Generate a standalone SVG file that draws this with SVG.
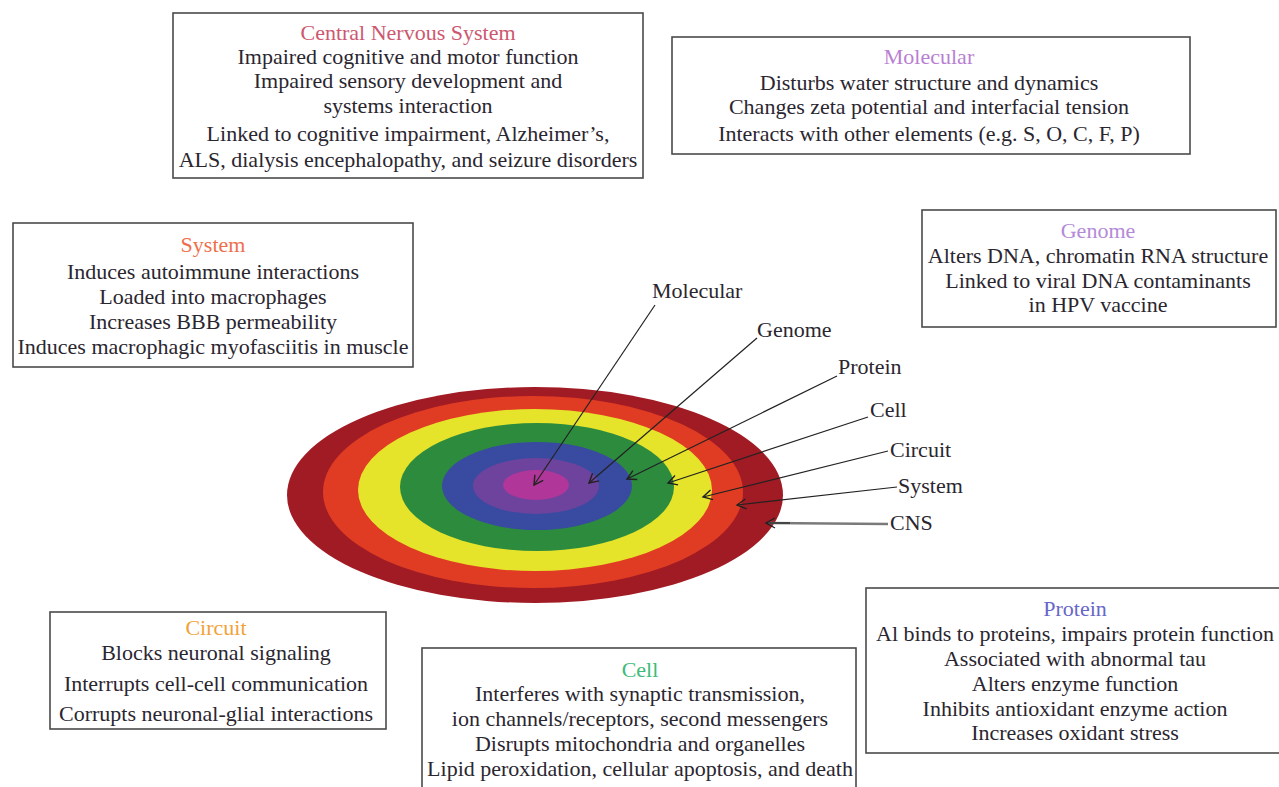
<svg xmlns="http://www.w3.org/2000/svg" width="1279" height="787" viewBox="0 0 1279 787">
  <style>
    .box { fill: #ffffff; stroke: #4a4a4a; stroke-width: 1.6; }
    .txt { font-family: "Liberation Serif", "Times New Roman", serif; font-size: 22px; fill: #2a2630; text-anchor: middle; }
    .lbl { font-family: "Liberation Serif", "Times New Roman", serif; font-size: 22px; fill: #2a2630; }
    .lead { stroke: #222222; stroke-width: 1.2; fill: none; marker-end: url(#vhead); }
  </style>
  <defs>
    <marker id="vhead" viewBox="-10 -6 12 12" refX="0" refY="0" markerWidth="12" markerHeight="12" markerUnits="userSpaceOnUse" orient="auto">
      <path d="M -9 -5 L 0 0 L -9 5" fill="none" stroke="#222222" stroke-width="1.4"/>
    </marker>
  </defs>

  <rect width="1279" height="787" fill="#ffffff"/>

  <!-- nested layers, outermost first -->
  <g id="layers">
    <ellipse cx="535" cy="495" rx="248" ry="108" fill="#a11b24"/>
    <ellipse cx="533" cy="492" rx="210" ry="96" fill="#e03c23"/>
    <ellipse cx="535" cy="490" rx="177" ry="81" fill="#e6e42a"/>
    <ellipse cx="537" cy="487" rx="137" ry="64" fill="#2d8b3e"/>
    <ellipse cx="537" cy="486" rx="95" ry="44" fill="#394ba0"/>
    <ellipse cx="536" cy="486" rx="63" ry="28" fill="#6e439e"/>
    <ellipse cx="536" cy="485" rx="33" ry="15" fill="#b1369a"/>
  </g>

  <!-- leader lines from layer names to rings -->
  <g id="connectors">
    <line class="lead" x1="655" y1="305" x2="534" y2="485"/>
    <line class="lead" x1="757" y1="338" x2="589" y2="483"/>
    <line class="lead" x1="837" y1="376" x2="627" y2="479"/>
    <line class="lead" x1="868" y1="417" x2="668" y2="483"/>
    <line class="lead" x1="888" y1="451" x2="703" y2="497"/>
    <line class="lead" x1="897" y1="487" x2="737" y2="505"/>
    <line x1="888" y1="524" x2="768" y2="523" stroke="#7a7a7a" stroke-width="2.6"/>
    <line class="lead" x1="790" y1="523" x2="766" y2="523" stroke-width="0.1"/>
  </g>

  <g id="ring-labels">
    <text class="lbl" x="652" y="298">Molecular</text>
    <text class="lbl" x="757" y="337">Genome</text>
    <text class="lbl" x="838" y="374">Protein</text>
    <text class="lbl" x="870" y="417">Cell</text>
    <text class="lbl" x="890" y="457">Circuit</text>
    <text class="lbl" x="898" y="493">System</text>
    <text class="lbl" x="890" y="530">CNS</text>
  </g>

  <g id="cns">
    <rect class="box" x="173" y="13" width="470" height="165"/>
    <text class="txt" x="408" y="40" style="fill:#cc5870">Central Nervous System</text>
    <text class="txt" x="408" y="64">Impaired cognitive and motor function</text>
    <text class="txt" x="408" y="88">Impaired sensory development and</text>
    <text class="txt" x="408" y="113">systems interaction</text>
    <text class="txt" x="408" y="141">Linked to cognitive impairment, Alzheimer’s,</text>
    <text class="txt" x="408" y="167">ALS, dialysis encephalopathy, and seizure disorders</text>
  </g>

  <g id="molecular">
    <rect class="box" x="672" y="37" width="518" height="117"/>
    <text class="txt" x="929" y="64" style="fill:#b97fd2">Molecular</text>
    <text class="txt" x="929" y="90">Disturbs water structure and dynamics</text>
    <text class="txt" x="929" y="114">Changes zeta potential and interfacial tension</text>
    <text class="txt" x="929" y="141">Interacts with other elements (e.g. S, O, C, F, P)</text>
  </g>

  <g id="system">
    <rect class="box" x="13" y="223" width="400" height="144"/>
    <text class="txt" x="213" y="252" style="fill:#ef6f4c">System</text>
    <text class="txt" x="213" y="279">Induces autoimmune interactions</text>
    <text class="txt" x="213" y="304">Loaded into macrophages</text>
    <text class="txt" x="213" y="329">Increases BBB permeability</text>
    <text class="txt" x="213" y="354">Induces macrophagic myofasciitis in muscle</text>
  </g>

  <g id="genome">
    <rect class="box" x="922" y="210" width="354" height="117"/>
    <text class="txt" x="1098" y="238" style="fill:#b48ad8">Genome</text>
    <text class="txt" x="1098" y="263">Alters DNA, chromatin RNA structure</text>
    <text class="txt" x="1098" y="288">Linked to viral DNA contaminants</text>
    <text class="txt" x="1098" y="312">in HPV vaccine</text>
  </g>

  <g id="circuit">
    <rect class="box" x="50" y="612" width="336" height="117"/>
    <text class="txt" x="216" y="635" style="fill:#f2a23a">Circuit</text>
    <text class="txt" x="216" y="660">Blocks neuronal signaling</text>
    <text class="txt" x="216" y="691">Interrupts cell-cell communication</text>
    <text class="txt" x="216" y="721">Corrupts neuronal-glial interactions</text>
  </g>

  <g id="cell">
    <rect class="box" x="422" y="648" width="434" height="160"/>
    <text class="txt" x="640" y="677" style="fill:#3dbb7a">Cell</text>
    <text class="txt" x="640" y="701">Interferes with synaptic transmission,</text>
    <text class="txt" x="640" y="726">ion channels/receptors, second messengers</text>
    <text class="txt" x="640" y="751">Disrupts mitochondria and organelles</text>
    <text class="txt" x="640" y="776">Lipid peroxidation, cellular apoptosis, and death</text>
  </g>

  <g id="protein">
    <rect class="box" x="866" y="588" width="430" height="165"/>
    <text class="txt" x="1075" y="616" style="fill:#6767c8">Protein</text>
    <text class="txt" x="1075" y="641">Al binds to proteins, impairs protein function</text>
    <text class="txt" x="1075" y="666">Associated with abnormal tau</text>
    <text class="txt" x="1075" y="691">Alters enzyme function</text>
    <text class="txt" x="1075" y="716">Inhibits antioxidant enzyme action</text>
    <text class="txt" x="1075" y="740">Increases oxidant stress</text>
  </g>
</svg>
